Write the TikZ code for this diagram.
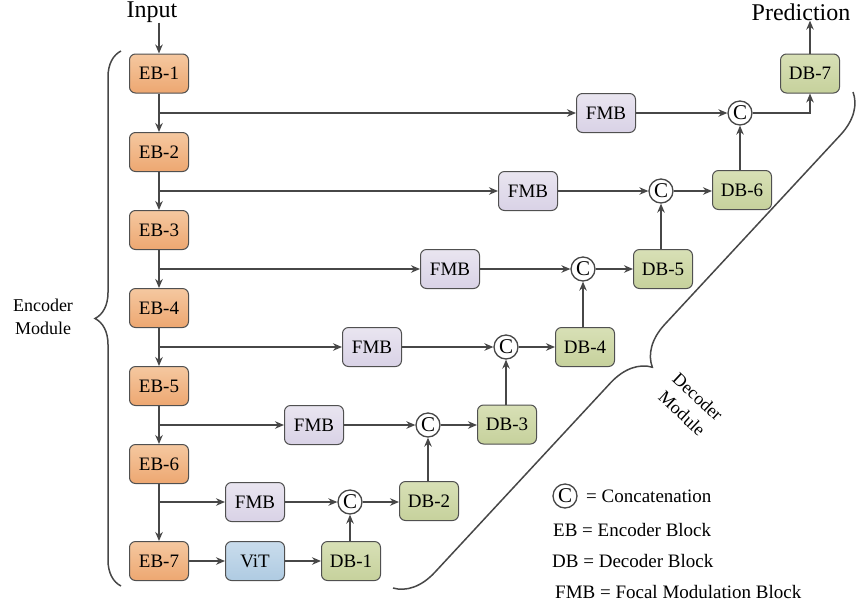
\documentclass[tikz,border=0pt]{standalone}
\usepackage{fontspec}
\setmainfont{Liberation Serif}
\usetikzlibrary{arrows.meta,decorations.pathreplacing}
\definecolor{linecol}{HTML}{474747}
\definecolor{bordercol}{HTML}{505050}
\definecolor{ebtop}{HTML}{F5C8A0}
\definecolor{ebbot}{HTML}{EDA771}
\definecolor{dbtop}{HTML}{D8E0B6}
\definecolor{dbbot}{HTML}{C6D19C}
\definecolor{fmtop}{HTML}{E9E5F0}
\definecolor{fmbot}{HTML}{D9D2E6}
\definecolor{vttop}{HTML}{C9DCEC}
\definecolor{vtbot}{HTML}{AFCBE2}
\tikzset{
  box/.style={draw=bordercol, line width=1pt, rounded corners=6pt,
    minimum width=59pt, minimum height=39pt, inner sep=0pt,
    font=\fontsize{19}{22}\selectfont},
  eb/.style={box, top color=ebtop, bottom color=ebbot},
  db/.style={box, top color=dbtop, bottom color=dbbot},
  fmb/.style={box, top color=fmtop, bottom color=fmbot},
  vit/.style={box, top color=vttop, bottom color=vtbot},
  cat/.style={circle, draw=linecol, fill=white, line width=1.3pt,
    minimum size=24pt, inner sep=0pt, font=\fontsize{21}{22}\selectfont},
  arr/.style={-{Stealth[length=9pt,width=7.5pt]}, line width=1.3pt, draw=linecol},
  ln/.style={line width=1.3pt, draw=linecol},
  brc/.style={line width=1.5pt, draw=linecol, decorate},
  lbl/.style={font=\fontsize{24}{26}\selectfont, inner sep=0pt},
  lgd/.style={font=\fontsize{19}{22}\selectfont, inner sep=0pt, anchor=west},
  side/.style={font=\fontsize{18}{23}\selectfont, align=center, inner sep=0pt}
}
\begin{document}
\begin{tikzpicture}[x=1pt,y=-1pt]
\useasboundingbox (0,0) rectangle (856,606);
% labels
\node[lbl] (in) at (152,12) {Input};
\node[lbl] (pred) at (801,12) {Prediction};
% encoder
\node[eb] (eb1) at (159,73.5) {EB-1};
\node[eb] (eb2) at (159,152) {EB-2};
\node[eb] (eb3) at (159,230) {EB-3};
\node[eb] (eb4) at (159,308) {EB-4};
\node[eb] (eb5) at (159,386) {EB-5};
\node[eb] (eb6) at (159,464) {EB-6};
\node[eb] (eb7) at (159,561) {EB-7};
% FMB
\node[fmb] (f1) at (606,113) {FMB};
\node[fmb] (f2) at (528,191) {FMB};
\node[fmb] (f3) at (450,269) {FMB};
\node[fmb] (f4) at (372,347) {FMB};
\node[fmb] (f5) at (314,425) {FMB};
\node[fmb] (f6) at (255,502) {FMB};
\node[vit] (vit) at (255,561) {ViT};
% concat
\node[cat] (c1) at (740,113) {C};
\node[cat] (c2) at (661,191) {C};
\node[cat] (c3) at (583,269) {C};
\node[cat] (c4) at (506,347) {C};
\node[cat] (c5) at (428,425) {C};
\node[cat] (c6) at (350,502) {C};
% decoder
\node[db] (d1) at (351,561) {DB-1};
\node[db] (d2) at (429,501) {DB-2};
\node[db] (d3) at (507,424.5) {DB-3};
\node[db] (d4) at (585,347) {DB-4};
\node[db] (d5) at (663,269) {DB-5};
\node[db] (d6) at (742,190) {DB-6};
\node[db] (d7) at (810,73.5) {DB-7};
% vertical encoder chain
\draw[arr] (in.south -| eb1) -- (eb1);
\draw[arr] (eb1) -- (eb2);
\draw[arr] (eb2) -- (eb3);
\draw[arr] (eb3) -- (eb4);
\draw[arr] (eb4) -- (eb5);
\draw[arr] (eb5) -- (eb6);
\draw[arr] (eb6) -- (eb7);
% skip branches
\draw[arr] (eb1 |- f1) -- (f1);
\draw[arr] (eb2 |- f2) -- (f2);
\draw[arr] (eb3 |- f3) -- (f3);
\draw[arr] (eb4 |- f4) -- (f4);
\draw[arr] (eb5 |- f5) -- (f5);
\draw[arr] (eb6 |- f6) -- (f6);
\draw[arr] (eb7) -- (vit);
\draw[arr] (vit) -- (d1);
% FMB to concat
\draw[arr] (f1) -- (c1);
\draw[arr] (f2) -- (c2);
\draw[arr] (f3) -- (c3);
\draw[arr] (f4) -- (c4);
\draw[arr] (f5) -- (c5);
\draw[arr] (f6) -- (c6);
% concat to decoder
\draw[arr] (c6) -- (c6 -| d2.west);
\draw[arr] (c5) -- (c5 -| d3.west);
\draw[arr] (c4) -- (c4 -| d4.west);
\draw[arr] (c3) -- (c3 -| d5.west);
\draw[arr] (c2) -- (c2 -| d6.west);
\draw[arr] (c1) -| (d7);
% decoder up to concat
\draw[arr] (d1.north -| c6) -- (c6);
\draw[arr] (d2.north -| c5) -- (c5);
\draw[arr] (d3.north -| c4) -- (c4);
\draw[arr] (d4.north -| c3) -- (c3);
\draw[arr] (d5.north -| c2) -- (c2);
\draw[arr] (d6.north -| c1) -- (c1);
\draw[arr] (d7) -- (d7 |- pred.south);
% braces
\coordinate (ebA) at (121,586);
\coordinate (ebB) at (121,51);
\draw[brc, decoration={brace, amplitude=26pt}] (ebA) -- (ebB);
\node[side] (encl) at (43,317) {Encoder\\Module};
\coordinate (dbA) at (853,92);
\coordinate (dbB) at (393,588);
\draw[brc, decoration={brace, amplitude=40pt}] (dbA) -- (dbB);
\node[side, rotate=-43] (decl) at (690,405) {Decoder\\Module};
% legend
\node[cat] (lc) at (565,496) {C};
\node[lgd] (l1) at (586,496) {= Concatenation};
\node[lgd] (l2) at (553,530) {EB = Encoder Block};
\node[lgd] (l3) at (552,561) {DB = Decoder Block};
\node[lgd] (l4) at (555,592) {FMB = Focal Modulation Block};
\end{tikzpicture}
\end{document}
